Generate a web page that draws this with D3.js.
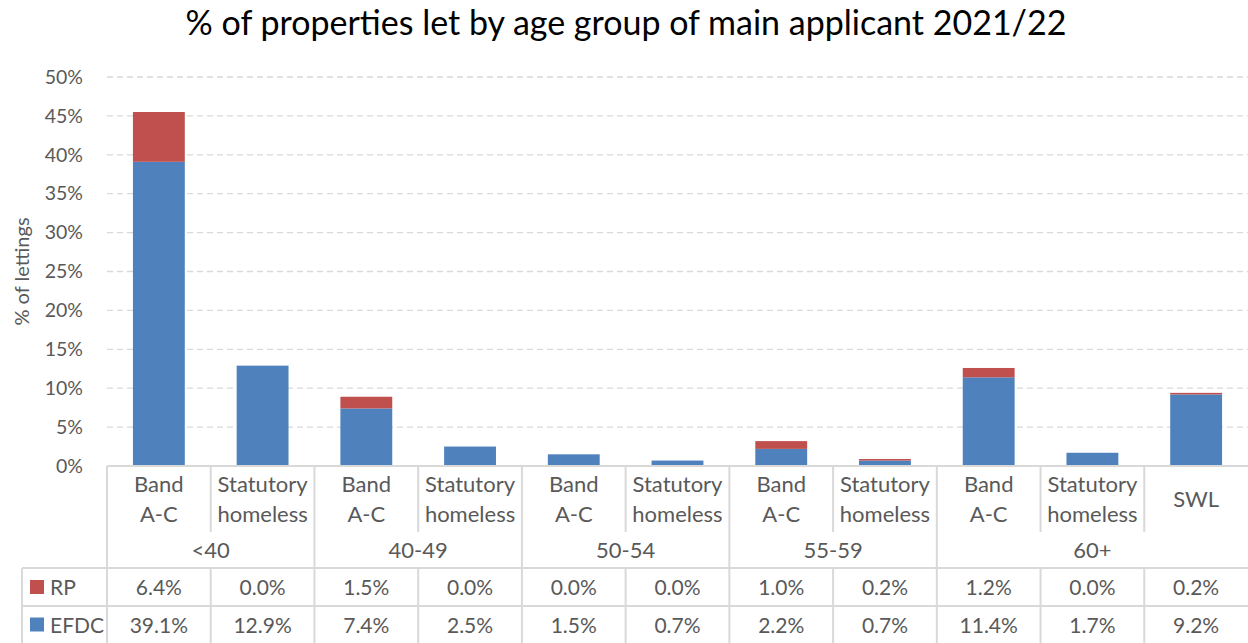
<!DOCTYPE html>
<html><head><meta charset="utf-8">
<script src="https://cdn.jsdelivr.net/npm/d3@7"></script>
<style>body{margin:0;background:#fff}svg{display:block}</style>
</head><body>
<svg id="c" width="1248" height="643"></svg>
<script>
const title = "% of properties let by age group of main applicant 2021/22";
const subLabels = [["Band","A-C"],["Statutory","homeless"],["Band","A-C"],["Statutory","homeless"],["Band","A-C"],["Statutory","homeless"],["Band","A-C"],["Statutory","homeless"],["Band","A-C"],["Statutory","homeless"],["SWL"]];
const groups = [{name:"<40",n:2},{name:"40-49",n:2},{name:"50-54",n:2},{name:"55-59",n:2},{name:"60+",n:3}];
const seriesNames = ["RP","EFDC"];
const rpValues = [6.4,0.0,1.5,0.0,0.0,0.0,1.0,0.2,1.2,0.0,0.2];
const efdcValues = [39.1,12.9,7.4,2.5,1.5,0.7,2.2,0.7,11.4,1.7,9.2];
const yTicks = [0,5,10,15,20,25,30,35,40,45,50];
const colors = {RP:"#c0504d", EFDC:"#4f81bd"};

const font = "Lato, 'Open Sans', sans-serif";
const txt = "#595959";
const svg = d3.select("#c").style("font-family", font);
const L = 107, R = 1248, T = 77, B = 466;
const idx = d3.range(subLabels.length);
const x = d3.scaleBand().domain(idx).range([L, R]).paddingInner(0).paddingOuter(0);
const y = d3.scaleLinear().domain([0,50]).range([B, T]);
const bw = x.bandwidth();

// gridlines
svg.append("g").selectAll("line").data(yTicks.filter(d=>d>0)).join("line")
  .attr("x1", L).attr("x2", R).attr("y1", d=>y(d)).attr("y2", d=>y(d))
  .attr("stroke","#d9d9d9").attr("stroke-width",1.3).attr("stroke-dasharray","6,4");

// y axis
const ya = svg.append("g").attr("transform",`translate(${L},0)`)
  .call(d3.axisLeft(y).tickValues(yTicks).tickFormat(d=>d+"%").tickSize(0).tickPadding(24));
ya.select(".domain").remove();
ya.selectAll("text").attr("fill",txt).style("font-size","19.5px").style("font-family",font);

svg.append("text").attr("transform",`translate(29,${(T+B)/2}) rotate(-90)`)
  .attr("text-anchor","middle").attr("fill",txt).style("font-size","20px").text("% of lettings");

// stacked bars
const stackData = idx.map(i=>({i, EFDC:efdcValues[i], RP:rpValues[i]}));
const stack = d3.stack().keys(["EFDC","RP"])(stackData);
const barW = bw*0.5;
svg.append("g").selectAll("g").data(stack).join("g").attr("fill", d=>colors[d.key])
  .selectAll("rect").data(d=>d).join("rect")
  .attr("x", d=>x(d.data.i)+ (bw-barW)/2).attr("width", barW)
  .attr("y", d=>y(d[1])).attr("height", d=>Math.max(0,y(d[0])-y(d[1])));

// title
svg.append("text").attr("x",626).attr("y",35).attr("text-anchor","middle")
  .attr("fill","#000").style("font-size","34px").text(title);

// table
const lc = "#d9d9d9";
const g = svg.append("g").attr("stroke",lc).attr("stroke-width",2);
const yGroupTop = 532, yRow1 = 568, yRow2 = 606, yEnd = 643;
g.append("line").attr("x1",L).attr("x2",R).attr("y1",B).attr("y2",B);
g.append("line").attr("x1",22).attr("x2",R).attr("y1",yRow1).attr("y2",yRow1);
g.append("line").attr("x1",22).attr("x2",R).attr("y1",yRow2).attr("y2",yRow2);
g.append("line").attr("x1",L).attr("x2",L).attr("y1",B).attr("y2",yEnd);
g.append("line").attr("x1",22).attr("x2",22).attr("y1",yRow1).attr("y2",yEnd);
let cum = 0; const gStarts = [];
groups.forEach(gr=>{gStarts.push(cum); cum+=gr.n;});
idx.slice(1).forEach(i=>{
  const isGroup = gStarts.includes(i);
  const xx = x(i);
  if (isGroup) g.append("line").attr("x1",xx).attr("x2",xx).attr("y1",B).attr("y2",yEnd);
  else {
    g.append("line").attr("x1",xx).attr("x2",xx).attr("y1",B).attr("y2",yGroupTop);
    g.append("line").attr("x1",xx).attr("x2",xx).attr("y1",yRow1).attr("y2",yEnd);
  }
});

const fs = "22px", vfs = "21px";
idx.forEach(i=>{
  const cx = x(i)+bw/2;
  const lines = subLabels[i];
  const t = svg.append("text").attr("text-anchor","middle").attr("fill",txt).style("font-size",fs);
  if (lines.length===2) {
    t.append("tspan").attr("x",cx).attr("y",492).text(lines[0]);
    t.append("tspan").attr("x",cx).attr("y",522).text(lines[1]);
  } else {
    t.attr("x",cx).attr("y",507).text(lines[0]);
  }
});
groups.forEach((gr,k)=>{
  const s = gStarts[k];
  const cx = (x(s) + x(s+gr.n-1)+bw)/2;
  svg.append("text").attr("x",cx).attr("y",558).attr("text-anchor","middle")
    .attr("fill",txt).style("font-size",fs).text(gr.name);
});
const rows = [{name:"RP", vals:rpValues, y:(yRow1+yRow2)/2},{name:"EFDC", vals:efdcValues, y:(yRow2+yEnd)/2}];
rows.forEach(r=>{
  svg.append("rect").attr("x",30).attr("y",r.y-7).attr("width",14).attr("height",14).attr("fill",colors[r.name]);
  svg.append("text").attr("x",50).attr("y",r.y+8).attr("fill",txt).style("font-size",vfs).text(r.name);
  idx.forEach(i=>{
    svg.append("text").attr("x",x(i)+bw/2).attr("y",r.y+8).attr("text-anchor","middle")
      .attr("fill",txt).style("font-size",vfs).text(r.vals[i].toFixed(1)+"%");
  });
});
</script>
</body></html>
